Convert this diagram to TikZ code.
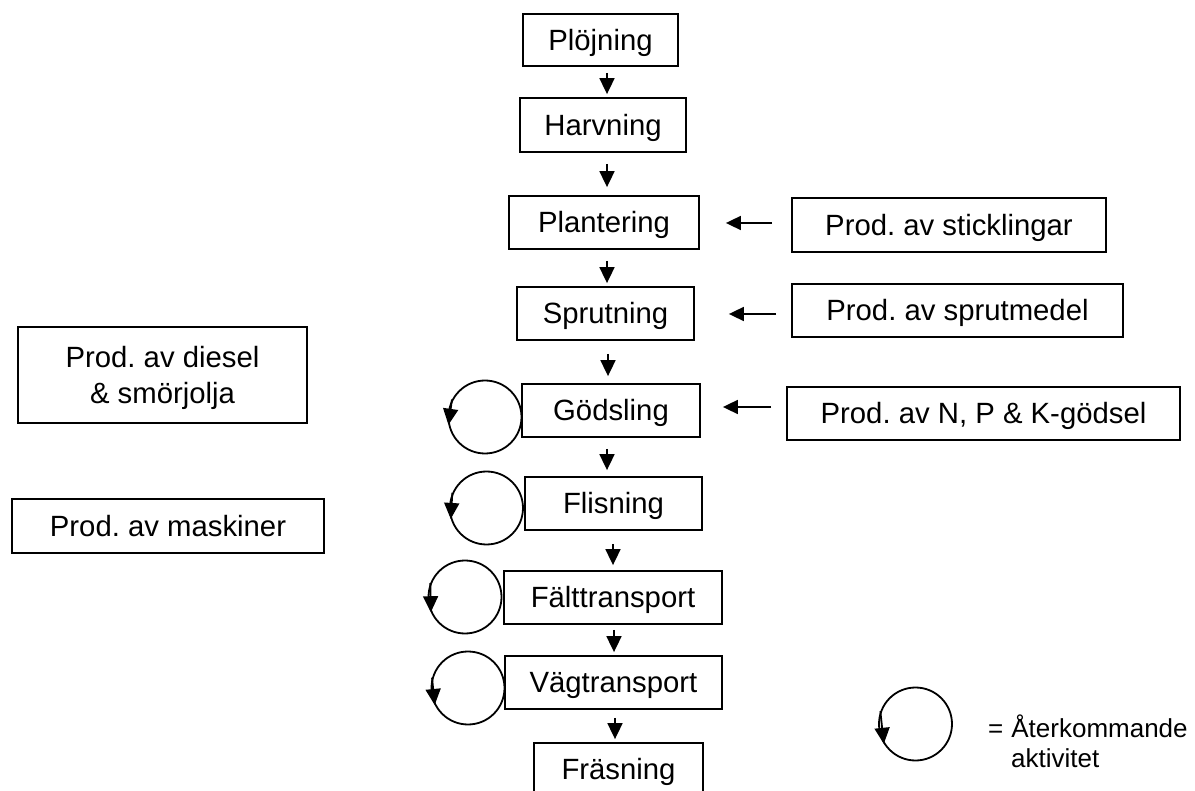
\documentclass[tikz,border=0pt]{standalone}
\usepackage{fontspec}
\setmainfont{Liberation Sans}
\usetikzlibrary{arrows.meta,calc}
\frenchspacing
\begin{document}
\frenchspacing
\begin{tikzpicture}[x=1pt,y=-1pt,
  procbox/.style={draw, line width=1.8pt, inner sep=0pt, text height=20.8pt, text depth=0pt,
    font=\fontsize{29.3}{36}\selectfont},
  varr/.style={line width=1.8pt, -{Triangle[width=15pt,length=16pt]}},
  harr/.style={line width=1.8pt, -{Triangle[width=14pt,length=15pt]}},
  ring/.style={circle, draw, line width=1.8pt, minimum size=73pt, inner sep=0pt},
  legtext/.style={font=\fontsize{26}{30}\selectfont, anchor=base west, inner sep=0pt}
]
\useasboundingbox (0,0) rectangle (1195,791);
\fill[white] (0,0) rectangle (1195,791);

% main chain
\node[procbox, minimum width=155pt, minimum height=52pt] (ploj) at (600.5,40) {Plöjning};
\node[procbox, minimum width=166pt, minimum height=54pt] (harv) at (603,125) {Harvning};
\node[procbox, minimum width=190pt, minimum height=53pt] (plant) at (604,222.5) {Plantering};
\node[procbox, minimum width=177pt, minimum height=53pt] (sprut) at (605.5,313.5) {Sprutning};
\node[procbox, minimum width=178pt, minimum height=53pt] (gods) at (611,410.5) {Gödsling};
\node[procbox, minimum width=177pt, minimum height=53pt] (flis) at (613.5,503.5) {Flisning};
\node[procbox, minimum width=218pt, minimum height=53pt] (falt) at (613,597.5) {Fälttransport};
\node[procbox, minimum width=217pt, minimum height=53pt] (vag) at (613.5,682.5) {Vägtransport};
\node[procbox, minimum width=169pt, minimum height=53pt] (fras) at (618.5,769.5) {Fräsning};

% inputs right
\node[procbox, minimum width=314pt, minimum height=54pt] (stick) at (949,225) {Prod. av sticklingar};
\node[procbox, minimum width=331pt, minimum height=53pt] (sprutm) at (957.5,310.5) {Prod. av sprutmedel};
\node[procbox, minimum width=393pt, minimum height=53pt] (npk) at (983.5,413.5) {Prod. av N, P \& K-gödsel};

% inputs left
\node[procbox, align=center, text height=56.8pt, minimum width=289pt, minimum height=96pt] (diesel) at (162.5,375) {Prod. av diesel\\\& smörjolja};
\node[procbox, minimum width=312pt, minimum height=54pt] (mask) at (168,526) {Prod. av maskiner};

% vertical arrows
\draw[varr] ($(ploj.south)+(6.5,6)$) -- ($(harv.north)+(4,-3)$);
\draw[varr] ($(harv.south)+(4,11)$) -- ($(plant.north)+(3,-8)$);
\draw[varr] ($(plant.south)+(3,11)$) -- ($(sprut.north)+(1.5,-3)$);
\draw[varr] ($(sprut.south)+(2.5,13)$) -- ($(gods.north)+(-3,-7)$);
\draw[varr] ($(gods.south)+(-4,11)$) -- ($(flis.north)+(-6.5,-6)$);
\draw[varr] ($(flis.south)+(-0.5,13)$) -- ($(falt.north)+(0,-5)$);
\draw[varr] ($(falt.south)+(1,5)$) -- ($(vag.north)+(0.5,-3)$);
\draw[varr] ($(vag.south)+(1.5,8)$) -- ($(fras.north)+(-3.5,-3)$);

% horizontal arrows
\draw[harr] ($(stick.west)+(-19,-2)$) -- ($(plant.east)+(26,0.5)$);
\draw[harr] ($(sprutm.west)+(-15,3.5)$) -- ($(sprut.east)+(34,0.5)$);
\draw[harr] ($(npk.west)+(-15,-6.5)$) -- ($(gods.east)+(22,-3.5)$);

% recurring loops
\node[ring] (l1) at (485,417) {};
\draw[varr] (l1.152) -- (l1.192);
\node[ring] (l2) at (486.5,508) {};
\draw[varr] (l2.156) -- (l2.197);
\node[ring] (l3) at (465,597) {};
\draw[varr] (l3.158) -- (l3.204);
\node[ring] (l4) at (468,688) {};
\draw[varr] (l4.164) -- (l4.207);

% legend
\node[ring] (leg) at (915.5,724) {};
\draw[varr] (leg.160) -- (leg.212);
\node[legtext] (leg1) at (988,737) {=\hspace{8pt}Återkommande};
\node[legtext] (leg2) at (1011,767) {aktivitet};
\end{tikzpicture}
\end{document}
